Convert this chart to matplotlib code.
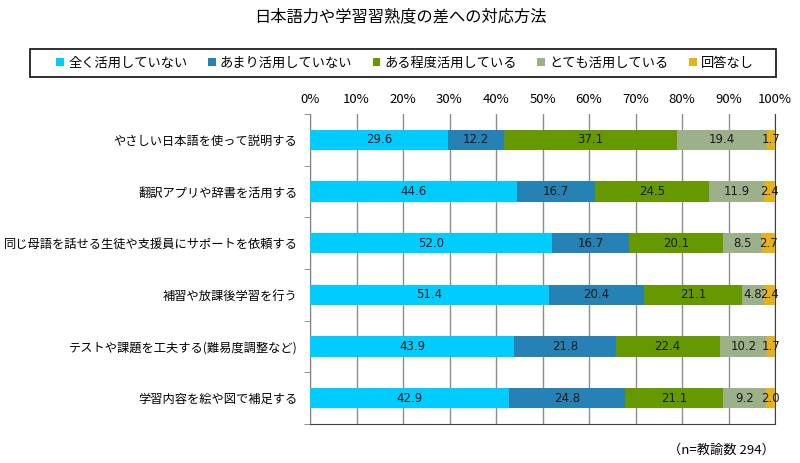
import matplotlib.pyplot as plt
from matplotlib.patches import Rectangle
import numpy as np

plt.rcParams['font.family'] = ['Noto Sans CJK JP', 'DejaVu Sans']

categories = [
    'やさしい日本語を使って説明する',
    '翻訳アプリや辞書を活用する',
    '同じ母語を話せる生徒や支援員にサポートを依頼する',
    '補習や放課後学習を行う',
    'テストや課題を工夫する(難易度調整など)',
    '学習内容を絵や図で補足する',
]
series_names = ['全く活用していない', 'あまり活用していない', 'ある程度活用している',
                'とても活用している', '回答なし']
not_at_all = [29.6, 44.6, 52.0, 51.4, 43.9, 42.9]
rarely = [12.2, 16.7, 16.7, 20.4, 21.8, 24.8]
somewhat = [37.1, 24.5, 20.1, 21.1, 22.4, 21.1]
very = [19.4, 11.9, 8.5, 4.8, 10.2, 9.2]
no_answer = [1.7, 2.4, 2.7, 2.4, 1.7, 2.0]
colors = ['#00CCFF', '#2682B4', '#669900', '#9CB089', '#E6B21C']

W, H = 800, 463
fig = plt.figure(figsize=(8, 4.63), dpi=100)
ax = fig.add_axes([310 / W, 1 - 424 / H, 465 / W, 310 / H])

y = np.arange(len(categories))
left = np.zeros(len(categories))
for name, vals, c in zip(series_names, [not_at_all, rarely, somewhat, very, no_answer], colors):
    vals = np.array(vals)
    ax.barh(y, vals, left=left, height=0.39, color=c, label=name, zorder=3)
    for yi, l, v in zip(y, left, vals):
        ax.text(l + v / 2, yi, f'{v:.1f}', ha='center', va='center', fontsize=8.5,
                color='#1a1a1a', zorder=4, family='DejaVu Sans')
    left += vals

ax.set_xlim(0, 100)
ax.set_ylim(len(categories) - 0.5, -0.5)
ax.xaxis.tick_top()
ax.set_xticks(range(0, 101, 10))
ax.set_xticklabels([f'{v}%' for v in range(0, 101, 10)], fontsize=9.5)
ax.tick_params(axis='x', length=0, pad=6)
ax.set_yticks(y)
ax.set_yticklabels(categories, fontsize=8.8)
ax.tick_params(axis='y', length=0, pad=9)
ax.set_yticks(np.arange(-0.5, len(categories), 1), minor=True)
ax.tick_params(axis='y', which='minor', length=4, color='#808080')
ax.grid(axis='x', color='#8c8c8c', linewidth=1, zorder=0)
ax.spines['top'].set_visible(False)
ax.spines['right'].set_color('#404040')
ax.spines['left'].set_color('#808080')
ax.spines['bottom'].set_color('#404040')

fig.text(0.5, 1 - 17 / H, '日本語力や学習習熟度の差への対応方法', ha='center', va='center', fontsize=11.7)

# legend with its own box
fig.patches.append(Rectangle((30 / W, 1 - 77 / H), 746 / W, 28 / H, transform=fig.transFigure,
                             fill=False, edgecolor='#202020', linewidth=1.3))
fig.legend(loc='center', bbox_to_anchor=(405 / W, 1 - 63 / H), ncol=5, fontsize=9.5,
           frameon=False, handlelength=0.6, handleheight=0.6, handletextpad=0.3,
           columnspacing=1.55)
fig.text(775 / W, 1 - 450 / H, '（n=教諭数 294）', ha='right', va='center', fontsize=9.5)

fig.savefig('out.png', dpi=100)
